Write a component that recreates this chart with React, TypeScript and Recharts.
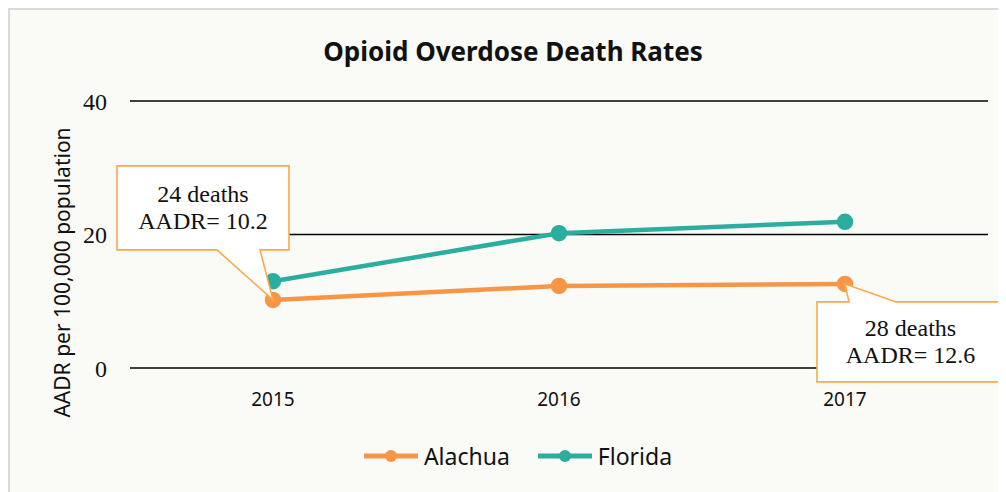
import React from 'react';
import { LineChart, Line, XAxis, YAxis, CartesianGrid, Legend } from 'recharts';

const years = ['2015', '2016', '2017'];
const alachua = [10.2, 12.3, 12.6];
const florida = [13.0, 20.2, 21.9];
const yTicks = [0, 20, 40];

// callouts sit on the Alachua series
const callouts = [
  { index: 0, lines: ['24 deaths', 'AADR= 10.2'], side: 'above' },
  { index: 2, lines: ['28 deaths', 'AADR= 12.6'], side: 'below' },
];

const ORANGE = '#F79646';
const TEAL = '#2BAE9F';
const CALLOUT = '#F8AA4A';
const SERIF = '"Liberation Serif", serif';
const SANS = '"Noto Sans", sans-serif';

const data = years.map((year, i) => ({ year, Alachua: alachua[i], Florida: florida[i] }));

const series = [
  { key: 'Alachua', color: ORANGE },
  { key: 'Florida', color: TEAL },
];

// box with a pointer running to the data point
const Callout: React.FC<{ x: number; y: number; lines: string[]; side: string }> = ({ x, y, lines, side }) => {
  let path: string;
  let cx: number;
  let cy: number;
  if (side === 'above') {
    const L = x - 156, R = x + 16, T = y - 134, B = y - 50;
    path = `M${L},${T} H${R} V${B} H${x - 13} L${x},${y} L${x - 56},${B} H${L} Z`;
    cx = (L + R) / 2;
    cy = (T + B) / 2;
  } else {
    const L = x - 28, R = x + 159, T = y + 18, B = y + 98;
    path = `M${L},${T} H${x + 4} L${x},${y} L${x + 51},${T} H${R} V${B} H${L} Z`;
    cx = (L + R) / 2;
    cy = (T + B) / 2;
  }
  return (
    <g>
      <path d={path} fill="#ffffff" stroke={CALLOUT} strokeWidth={1.6} />
      {lines.map((t, i) => (
        <text key={i} x={cx} y={cy + (i - 0.5) * 27} textAnchor="middle" dominantBaseline="central"
          fontFamily={SERIF} fontSize={24} fill="#111">
          {t}
        </text>
      ))}
    </g>
  );
};

const renderCallout = (props: any) => {
  const c = callouts.find((d) => d.index === props.index);
  if (!c) return null;
  return <Callout key={`c-${props.index}`} x={props.x} y={props.y} lines={c.lines} side={c.side} />;
};

const renderYLabel = (props: any) => {
  const vb = props.viewBox;
  const x = vb.x + 14;
  const y = vb.y + vb.height / 2 + 38;
  return (
    <text x={x} y={y} transform={`rotate(-90, ${x}, ${y})`} textAnchor="middle" dominantBaseline="central"
      fontFamily={SANS} fontSize={21} fill="#111">
      AADR per 100,000 population
    </text>
  );
};

const renderLegend = () => (
  <div style={{ display: 'flex', justifyContent: 'center', alignItems: 'center', gap: 28, fontFamily: SANS, fontSize: 23, color: '#111' }}>
    {series.map((s) => (
      <div key={s.key} style={{ display: 'flex', alignItems: 'center' }}>
        <svg width={54} height={14} style={{ marginRight: 6 }}>
          <line x1={0} y1={7} x2={54} y2={7} stroke={s.color} strokeWidth={5} />
          <circle cx={27} cy={7} r={6} fill={s.color} />
        </svg>
        <span>{s.key}</span>
      </div>
    ))}
  </div>
);

const App: React.FC = () => {
  return (
    <div style={{ position: 'relative', width: 1010, height: 484, background: '#FAFAF7', boxShadow: 'inset 2px 2px 0 #D9D9D9' }}>
      <div style={{ position: 'absolute', left: 0, width: 1010, top: 25, textAlign: 'center', fontFamily: SANS, fontWeight: 700, fontSize: 26, color: '#111' }}>
        Opioid Overdose Death Rates
      </div>
      <LineChart width={998} height={484} data={data} margin={{ top: 93, right: 18, bottom: 22, left: 40 }}>
        <CartesianGrid vertical={false} stroke="#000" strokeWidth={1.5} />
        <XAxis dataKey="year" scale="band" axisLine={false} tickLine={false} tickSize={0} tickMargin={25} height={72}
          tick={{ fontFamily: SANS, fontSize: 19, fill: '#111' }} />
        <YAxis domain={[0, 40]} ticks={yTicks} width={82} axisLine={false} tickLine={false} tickSize={0} tickMargin={23}
          tick={{ fontFamily: SERIF, fontSize: 24, fill: '#111' }} label={{ content: renderYLabel }} />
        <Legend verticalAlign="bottom" height={30} content={renderLegend} />
        <Line dataKey="Alachua" stroke={ORANGE} strokeWidth={4.5} dot={{ r: 6, fill: ORANGE, stroke: ORANGE }}
          activeDot={false} isAnimationActive={false} label={renderCallout} />
        <Line dataKey="Florida" stroke={TEAL} strokeWidth={4.5} dot={{ r: 6, fill: TEAL, stroke: TEAL }}
          activeDot={false} isAnimationActive={false} />
      </LineChart>
    </div>
  );
};

export default App;
